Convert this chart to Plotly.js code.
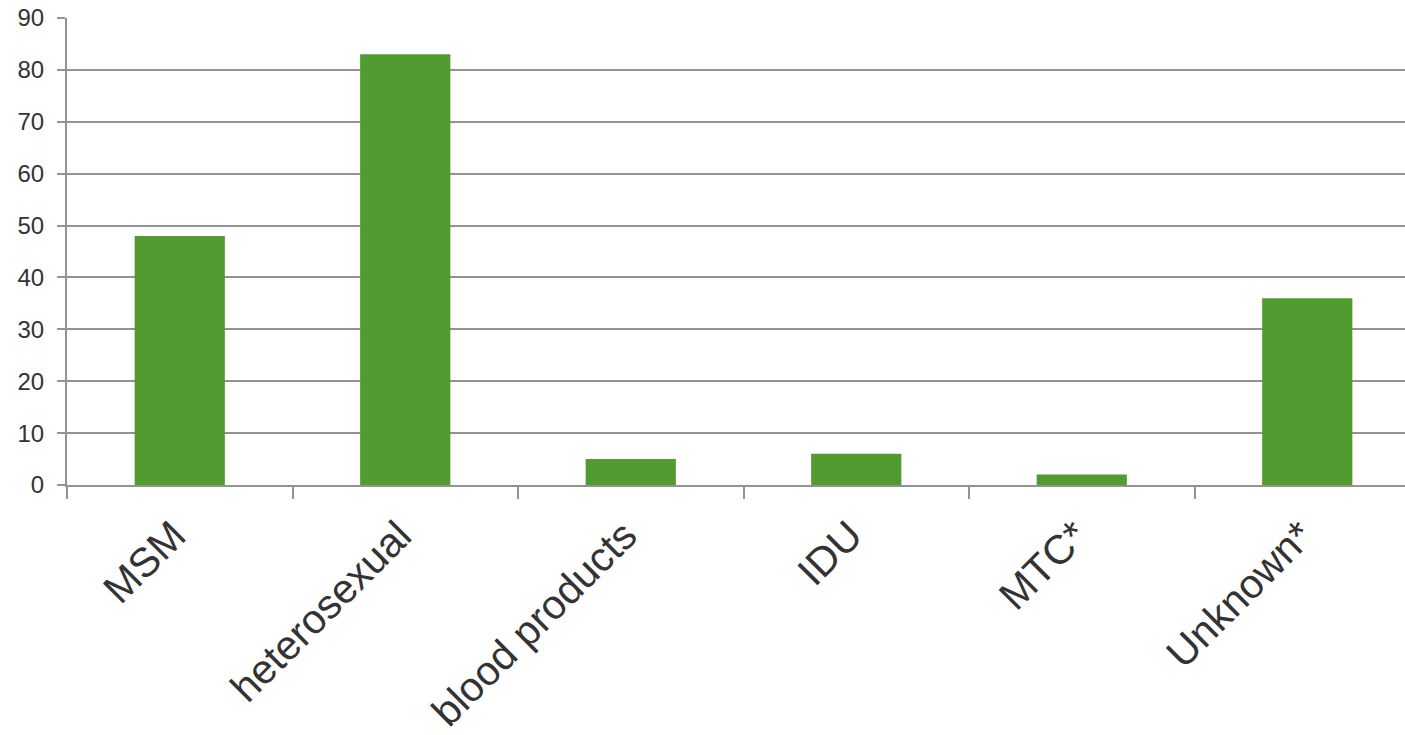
<!DOCTYPE html>
<html>
<head>
<meta charset="utf-8">
<script src="https://cdn.plot.ly/plotly-3.0.1.min.js"></script>
<style>html,body{margin:0;padding:0;background:#fff;}#chart{width:1405px;height:735px;}</style>
</head>
<body>
<div id="chart"></div>
<script>
const categories = ["MSM", "heterosexual", "blood products", "IDU", "MTC*", "Unknown*"];
const values = [48, 83, 5, 6, 2, 36];
const yTickValues = [0, 10, 20, 30, 40, 50, 60, 70, 80, 90];

const gridColor = "#939393";
const textColor = "#333333";

const trace = {
  type: "bar",
  x: categories,
  y: values,
  marker: { color: "#529B30", line: { width: 0 } },
  hoverinfo: "x+y"
};

const layout = {
  width: 1405,
  height: 735,
  margin: { l: 67, r: 0, t: 18, b: 250, pad: 0 },
  paper_bgcolor: "#ffffff",
  plot_bgcolor: "#ffffff",
  showlegend: false,
  bargap: 0.6,
  font: { family: "Liberation Sans, Arial, sans-serif", color: textColor },
  xaxis: {
    type: "category",
    range: [-0.5, 5.4335],
    tickangle: -45,
    tickfont: { size: 41, color: textColor },
    ticks: "outside",
    tickson: "boundaries",
    ticklen: 12,
    tickwidth: 2,
    tickcolor: gridColor,
    ticklabelstandoff: 8,
    ticklabelshift: -6,
    showline: true,
    linecolor: gridColor,
    linewidth: 2,
    showgrid: false,
    zeroline: false
  },
  yaxis: {
    range: [0, 90],
    tickvals: yTickValues,
    tickfont: { size: 24, color: textColor },
    ticks: "outside",
    ticklen: 8,
    tickwidth: 2,
    tickcolor: gridColor,
    ticklabelstandoff: 8,
    showline: true,
    linecolor: gridColor,
    linewidth: 2,
    showgrid: true,
    gridcolor: gridColor,
    gridwidth: 2,
    zeroline: false
  }
};

Plotly.newPlot("chart", [trace], layout, { displayModeBar: false, staticPlot: true });
</script>
</body>
</html>
